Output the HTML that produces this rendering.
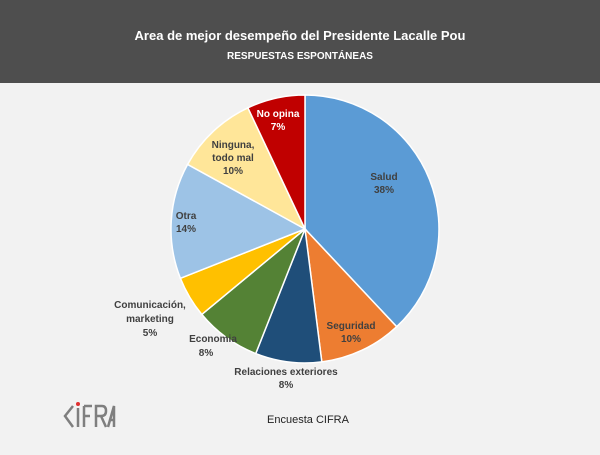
<!DOCTYPE html>
<html><head><meta charset="utf-8"><style>
body{margin:0;width:600px;height:450px;background:#f2f2f2;overflow:hidden;font-family:"Liberation Sans",sans-serif}
</style></head><body>
<svg width="600" height="450" xmlns="http://www.w3.org/2000/svg" font-family="Liberation Sans, sans-serif">
<rect width="600" height="83" fill="#4e4e4e"/>
<text x="300" y="40" fill="#fff" font-size="13" font-weight="bold" text-anchor="middle">Area de mejor desempeño del Presidente Lacalle Pou</text>
<text x="300" y="59" fill="#fff" font-size="10" font-weight="bold" text-anchor="middle">RESPUESTAS ESPONTÁNEAS</text>
<g stroke="#fff" stroke-width="1.5">
<path d="M305,229 L305,95 A134,134 0 0 1 396.7,326.7Z" fill="#5b9bd5"/>
<path d="M305,229 L396.7,326.7 A134,134 0 0 1 321.8,361.9Z" fill="#ed7d31"/>
<path d="M305,229 L321.8,361.9 A134,134 0 0 1 255.7,353.6Z" fill="#1f4e79"/>
<path d="M305,229 L255.7,353.6 A134,134 0 0 1 201.8,314.4Z" fill="#548235"/>
<path d="M305,229 L201.8,314.4 A134,134 0 0 1 180.4,278.3Z" fill="#ffc000"/>
<path d="M305,229 L180.4,278.3 A134,134 0 0 1 187.6,164.4Z" fill="#9dc3e6"/>
<path d="M305,229 L187.6,164.4 A134,134 0 0 1 247.9,107.8Z" fill="#ffe699"/>
<path d="M305,229 L247.9,107.8 A134,134 0 0 1 305,95Z" fill="#c00000"/>
</g>
<g font-size="10" font-weight="bold" fill="#404040" text-anchor="middle">
<text x="384" y="180">Salud</text><text x="384" y="193">38%</text>
<text x="351" y="329">Seguridad</text><text x="351" y="342">10%</text>
<text x="286" y="375">Relaciones exteriores</text><text x="286" y="388">8%</text>
<text x="213" y="342">Economia</text><text x="206" y="356">8%</text>
<text x="150" y="308">Comunicación,</text><text x="150" y="322">marketing</text><text x="150" y="336">5%</text>
<text x="186" y="219">Otra</text><text x="186" y="232">14%</text>
<text x="233" y="148">Ninguna,</text><text x="233" y="161">todo mal</text><text x="233" y="174">10%</text>
<text x="278" y="117" fill="#fff">No opina</text><text x="278" y="130" fill="#fff">7%</text>
</g>
<text x="308" y="423" font-size="11" fill="#222" text-anchor="middle">Encuesta CIFRA</text>
<g stroke="#7f7f7f" stroke-width="2.5" fill="none">
<path d="M73,406 L65,416 L73,427"/>
<path d="M78,408 V427"/>
<path d="M84,406 V427 M84,406 H92 M84,416 H90"/>
<path d="M96,427 V406 H102 Q106,406 106,411 Q106,416 101,416 H96 M101,416 L106,427"/>
<path d="M108,427 L114,406 L114,427 M110,420 H114"/>
</g>
<circle cx="78" cy="404" r="2" fill="#e03030"/>
</svg>
</body></html>
